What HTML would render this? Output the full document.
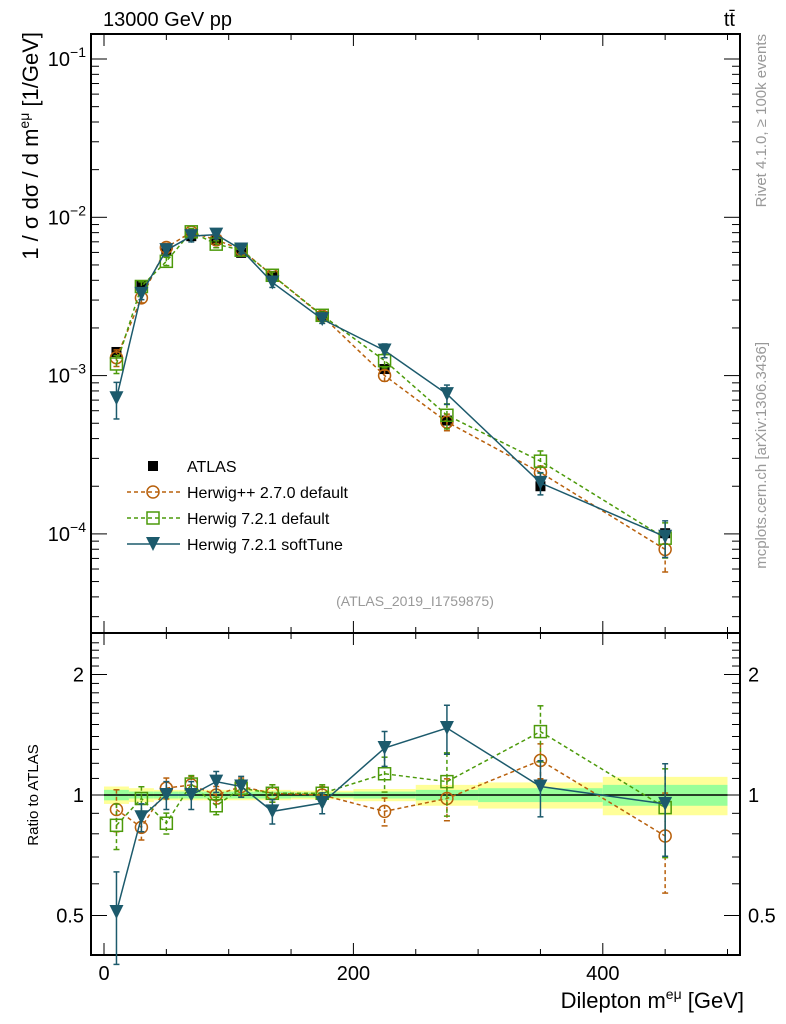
<!DOCTYPE html>
<html><head><meta charset="utf-8"><style>
body{margin:0;background:#fff;}
svg{display:block;font-family:"Liberation Sans",sans-serif;}
</style></head><body>
<svg id="c" width="786" height="1024"></svg>
<script>
const bins=[10,30,50,70,90,110,135,175,225,275,350,450];
const edges=[0,20,40,60,80,100,120,150,200,250,300,400,500];
const atlas=[1.41e-3,3.73e-3,6.2e-3,7.6e-3,7.2e-3,5.96e-3,4.26e-3,2.38e-3,1.10e-3,5.2e-4,2.0e-4,1.01e-4];
const bandYellow=[0.05,0.04,0.03,0.03,0.03,0.03,0.03,0.025,0.035,0.06,0.075,0.11];
const bandGreen=[0.03,0.02,0.02,0.02,0.02,0.02,0.02,0.015,0.02,0.03,0.04,0.06];
const ratioHpp=[0.92,0.83,1.04,1.06,1.0,1.05,1.01,1.0,0.91,0.98,1.22,0.79];
const ratioH72=[0.84,0.98,0.85,1.065,0.94,1.04,1.01,1.01,1.13,1.08,1.44,0.93];
const ratioSoft=[0.51,0.88,1.0,1.0,1.08,1.05,0.91,0.955,1.31,1.47,1.05,0.95];
const errHpp=[0.12,0.07,0.06,0.05,0.05,0.05,0.05,0.05,0.08,0.12,0.10,0.28];
const errH72=[0.13,0.07,0.06,0.05,0.05,0.05,0.05,0.05,0.10,0.18,0.16,0.25];
const errSoft=[0.26,0.08,0.08,0.08,0.06,0.06,0.07,0.06,0.10,0.14,0.16,0.26];
const yTicksMain=[-1,-2,-3,-4];
const ratioTicksMajor=[0.5,1,2];
const xTicksMajor=[0,200,400];

const NS="http://www.w3.org/2000/svg";
const svg=document.getElementById('c');
function el(t,a,p){const e=document.createElementNS(NS,t);for(const k in a)e.setAttribute(k,a[k]);(p||svg).appendChild(e);return e;}
const X=v=>104+1.247*v;
const YM=v=>59+158.3*(-1-Math.log10(v));
const YR=r=>795-120.5*Math.log2(r);
const L=91,R=740,T=34,M=633,B=955;

const gb=el('g',{});


for(let i=0;i<bins.length;i++){
  const x0=X(edges[i]),x1=X(edges[i+1]);
  const ry=el('rect',{x:x0,y:YR(1+bandYellow[i]),width:x1-x0,height:YR(1-bandYellow[i])-YR(1+bandYellow[i]),fill:'#ffff99'},gb);
  
  
  const rg=el('rect',{x:x0,y:YR(1+bandGreen[i]),width:x1-x0,height:YR(1-bandGreen[i])-YR(1+bandGreen[i]),fill:'#99ff99'},gb);
  
  
}
el('line',{x1:X(0),x2:X(500),y1:YR(1),y2:YR(1),stroke:'#000','stroke-width':1.5});

el('rect',{x:L,y:T,width:R-L,height:M-T,fill:'none',stroke:'#000','stroke-width':2});
el('rect',{x:L,y:M,width:R-L,height:B-M,fill:'none',stroke:'#000','stroke-width':2});

for(let v=0;v<=500;v+=50){
  const big=v%200===0, len=big?12:6, x=X(v);
  [T,M].forEach(y=>el('line',{x1:x,x2:x,y1:y,y2:y+len,stroke:'#000','stroke-width':1}));
  [M,B].forEach(y=>el('line',{x1:x,x2:x,y1:y,y2:y-len,stroke:'#000','stroke-width':1}));
}
xTicksMajor.forEach(v=>{const t=el('text',{x:X(v),y:980,'font-size':20,'text-anchor':'middle'});t.textContent=v;
});

for(let d=-5;d<=-1;d++){
  for(let m=1;m<=9;m++){
    const v=m*Math.pow(10,d),y=YM(v);if(y<T||y>M)continue;
    const len=m===1?16:8;
    el('line',{x1:L,x2:L+len,y1:y,y2:y,stroke:'#000'});
    el('line',{x1:R,x2:R-len,y1:y,y2:y,stroke:'#000'});
  }
}
yTicksMain.forEach(d=>{const t=el('text',{x:86,y:YM(Math.pow(10,d))+7,'font-size':20,'text-anchor':'end'});
t.innerHTML='10<tspan dy="-9" font-size="14">−'+(-d)+'</tspan>';
});

for(let r=0.4;r<=2.5;r+=0.1){
  const rr=Math.round(r*10)/10,y=YR(rr);if(y<M+1||y>B-1)continue;
  const big=ratioTicksMajor.includes(rr),len=big?16:8;
  el('line',{x1:L,x2:L+len,y1:y,y2:y,stroke:'#000'});
  el('line',{x1:R,x2:R-len,y1:y,y2:y,stroke:'#000'});
}
ratioTicksMajor.forEach(r=>{
  const t=el('text',{x:84,y:YR(r)+7,'font-size':20,'text-anchor':'end'});t.textContent=r;
  
  const t2=el('text',{x:748,y:YR(r)+7,'font-size':20});t2.textContent=r;
  
});

function marker(kind,x,y,col,g){
  if(kind==='sq')el('rect',{x:x-5,y:y-5,width:10,height:10,fill:'#000'},g);
  else if(kind==='circ')el('circle',{cx:x,cy:y,r:6,fill:'none',stroke:col,'stroke-width':1.5},g);
  else if(kind==='osq')el('rect',{x:x-6,y:y-6,width:12,height:12,fill:'none',stroke:col,'stroke-width':1.5},g);
  else el('path',{d:`M${x-7},${y-7}L${x+7},${y-7}L${x},${y+7}Z`,fill:col},g);
}
function series(name,ratio,err,col,kind,dash){
  [['main',v=>YM(v),i=>atlas[i]*ratio[i]],['ratio',v=>YR(v),i=>ratio[i]]].forEach(([p,Yf,val])=>{
    const g=el('g',{});
    
    
    let d='';
    bins.forEach((b,i)=>{d+=(i?'L':'M')+X(b)+','+Yf(val(i));});
    el('path',{d,fill:'none',stroke:col,'stroke-width':1.5,'stroke-dasharray':dash||'none'},g);
    bins.forEach((b,i)=>{
      const v=val(i),x=X(b),y1=Yf(v*(1+err[i])),y2=Yf(v*(1-err[i]));
      el('line',{x1:x,x2:x,y1,y2,stroke:col,'stroke-width':1.5,'stroke-dasharray':dash||'none'},g);
      el('line',{x1:x-3,x2:x+3,y1,y2:y1,stroke:col,'stroke-width':1.5},g);
      el('line',{x1:x-3,x2:x+3,y1:y2,y2,stroke:col,'stroke-width':1.5},g);
      marker(kind,x,Yf(v),col,g);
    });
  });
}
const ga=el('g',{});


bins.forEach((b,i)=>{marker('sq',X(b),YM(atlas[i]),'#000',ga);});
series('herwigpp-270',ratioHpp,errHpp,'#b8600c','circ','4,3');
series('herwig-721-default',ratioH72,errH72,'#4c9a0a','osq','4,3');
series('herwig-721-softtune',ratioSoft,errSoft,'#1c5a6c','tri');

const lg=el('g',{});


const leg=[['ATLAS','sq','#000',null],['Herwig++ 2.7.0 default','circ','#b8600c','4,3'],['Herwig 7.2.1 default','osq','#4c9a0a','4,3'],['Herwig 7.2.1 softTune','tri','#1c5a6c',null]];
leg.forEach((l,i)=>{
  const y=466+26*i;
  if(i>0)el('line',{x1:127,x2:180,y1:y,y2:y,stroke:l[2],'stroke-width':1.5,'stroke-dasharray':l[3]||'none'},lg);
  marker(l[1],153,y,l[2],lg);
  const t=el('text',{x:187,y:y+6,'font-size':16},lg);t.textContent=l[0];
  
});

function txt(s,a,name){const t=el('text',a);t.innerHTML=s;return t;}
txt('(ATLAS_2019_I1759875)',{x:415,y:606,'font-size':14,fill:'#999','text-anchor':'middle'},'analysis-id');
txt('13000 GeV pp',{x:103,y:26,'font-size':20},'title-energy');
txt('tt̄',{x:735,y:26,'font-size':20,'text-anchor':'end'},'title-process');
txt('Dilepton m<tspan dy="-9" font-size="14">eμ</tspan><tspan dy="9"> [GeV]</tspan>',{x:744,y:1008,'font-size':22,'text-anchor':'end'},'x-axis-title');
txt('1 / σ  dσ / d m<tspan dy="-9" font-size="14">eμ</tspan><tspan dy="9"> [1/GeV]</tspan>',{x:0,y:0,'font-size':22,'text-anchor':'end',transform:'translate(38,32) rotate(-90)'},'y-axis-title');
txt('Ratio to ATLAS',{x:0,y:0,'font-size':15,'text-anchor':'middle',transform:'translate(38,795) rotate(-90)'},'ratio-axis-title');
txt('Rivet 4.1.0, ≥ 100k events',{x:0,y:0,'font-size':15,fill:'#999','text-anchor':'end',transform:'translate(766,34) rotate(-90)'},'rivet-label');
txt('mcplots.cern.ch [arXiv:1306.3436]',{x:0,y:0,'font-size':15,fill:'#999','text-anchor':'end',transform:'translate(766,342) rotate(-90)'},'mcplots-label');
</script>
</body></html>
